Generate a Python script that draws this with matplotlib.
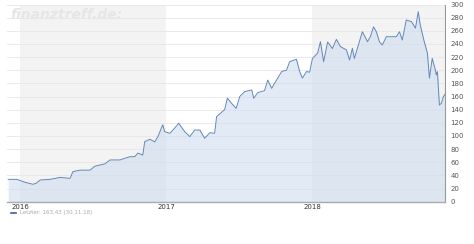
import numpy as np
import pandas as pd
import matplotlib.pyplot as plt
import matplotlib.dates as mdates

# price trace
dates = ["2015-12-02", "2015-12-24", "2016-01-13", "2016-02-02", "2016-02-10", "2016-02-20",
         "2016-03-16", "2016-04-10", "2016-05-05", "2016-05-12", "2016-05-30", "2016-06-24",
         "2016-07-06", "2016-07-31", "2016-08-13", "2016-09-07", "2016-09-19", "2016-10-02",
         "2016-10-14", "2016-10-22", "2016-11-03", "2016-11-08", "2016-11-21", "2016-12-03",
         "2016-12-11", "2016-12-23", "2016-12-28", "2017-01-10", "2017-01-22", "2017-02-01",
         "2017-02-16", "2017-03-01", "2017-03-13", "2017-03-26", "2017-04-07", "2017-04-20",
         "2017-05-02", "2017-05-07", "2017-05-27", "2017-06-03", "2017-06-13", "2017-06-25",
         "2017-07-04", "2017-07-16", "2017-08-03", "2017-08-08", "2017-08-18", "2017-09-04",
         "2017-09-12", "2017-09-22", "2017-09-29", "2017-10-17", "2017-10-29", "2017-11-06",
         "2017-11-18", "2017-11-23", "2017-12-01", "2017-12-08", "2017-12-18", "2017-12-26",
         "2018-01-02", "2018-01-15", "2018-01-22", "2018-01-30", "2018-02-09", "2018-02-21",
         "2018-03-03", "2018-03-13", "2018-03-28", "2018-04-05", "2018-04-12", "2018-04-17",
         "2018-04-22", "2018-05-07", "2018-05-20", "2018-05-27", "2018-06-04", "2018-06-11",
         "2018-06-19", "2018-06-26", "2018-07-06", "2018-07-19", "2018-07-31", "2018-08-08",
         "2018-08-15", "2018-08-25", "2018-09-07", "2018-09-17", "2018-09-24", "2018-09-29",
         "2018-10-09", "2018-10-17", "2018-10-22", "2018-10-29", "2018-11-06", "2018-11-08",
         "2018-11-11", "2018-11-16", "2018-11-21", "2018-11-26", "2018-11-30"]
prices = [34, 34, 29.6, 26.5, 28, 33,
          34, 37, 35.5, 45.7, 48, 48,
          54, 57.5, 63.5, 63.5, 66, 68.5,
          68.5, 74, 71, 91.4, 95, 91,
          99, 117, 106.6, 104, 112, 119.3,
          106.6, 99, 109, 109, 96.5, 105,
          104, 129.4, 140, 157.5, 150, 142,
          160, 167.4, 170, 157.3, 166, 169,
          185, 172.5, 180, 198, 200, 213,
          215.6, 216.6, 198, 188, 198, 197,
          218, 226, 243.4, 213, 243, 233,
          247, 236, 231, 215.6, 233.4, 218,
          228, 258.6, 243.4, 251, 266, 258.6,
          243, 238.4, 251, 251, 251, 258.6,
          246, 276.4, 274, 264, 289, 269,
          243.4, 226, 188, 218, 200, 192.8,
          198, 147, 150, 160, 163.43]

years = [2016, 2017, 2018]
shaded_years = [2016, 2018]
y_ticks = list(range(0, 301, 20))
last_label = "Letzter: 163,43 (30.11.18)"

t = pd.to_datetime(dates)

fig = plt.figure(figsize=(4.74, 2.44), dpi=100)
ax = fig.add_axes([7/474, 1-201.7/244, 438/474, 197.2/244])

x0 = pd.Timestamp("2015-11-29")
x1 = pd.Timestamp("2018-11-30")
for yr in shaded_years:
    a = pd.Timestamp(f"{yr}-01-01")
    b = min(pd.Timestamp(f"{yr+1}-01-01"), x1)
    ax.axvspan(a, b, color="#f3f3f3", zorder=0, lw=0)

for v in y_ticks:
    ax.axhline(v, color="#e6e6e6", lw=0.6, zorder=1)

ax.fill_between(t, prices, 0, color="#cddcef", alpha=0.6, lw=0, zorder=2)
ax.plot(t, prices, color="#6288b8", lw=0.7, zorder=3)

ax.set_xlim(x0, x1)
ax.set_ylim(0, 300)

for s in ["top", "left"]:
    ax.spines[s].set_visible(False)
ax.spines["right"].set_color("#999999")
ax.spines["bottom"].set_color("#aaaaaa")
ax.spines["right"].set_linewidth(0.8)
ax.spines["bottom"].set_linewidth(1.0)

ax.yaxis.tick_right()
ax.set_yticks(y_ticks)
ax.set_yticklabels([str(v) for v in y_ticks])
ax.tick_params(axis="y", length=0, pad=4, labelsize=5, labelcolor="#555555")

ax.set_xticks([pd.Timestamp(f"{y}-01-01") for y in years])
ax.set_xticklabels([str(y) for y in years])
ax.tick_params(axis="x", length=0, pad=1.5, labelsize=5, labelcolor="#333333")

ax.text(0.008, 0.945, "finanztreff.de:", transform=ax.transAxes, fontsize=10,
        style="italic", weight="bold", color="#e6e6e6", va="center", ha="left", zorder=4)

fig.lines.append(plt.Line2D([11/474, 16/474], [1-212.5/244, 1-212.5/244],
                            color="#3b5f9a", lw=1.2, transform=fig.transFigure))
fig.text(20/474, 1-212.5/244, last_label, fontsize=4, color="#aaaaaa", va="center")

fig.savefig("out.png", dpi=100, facecolor="white")
